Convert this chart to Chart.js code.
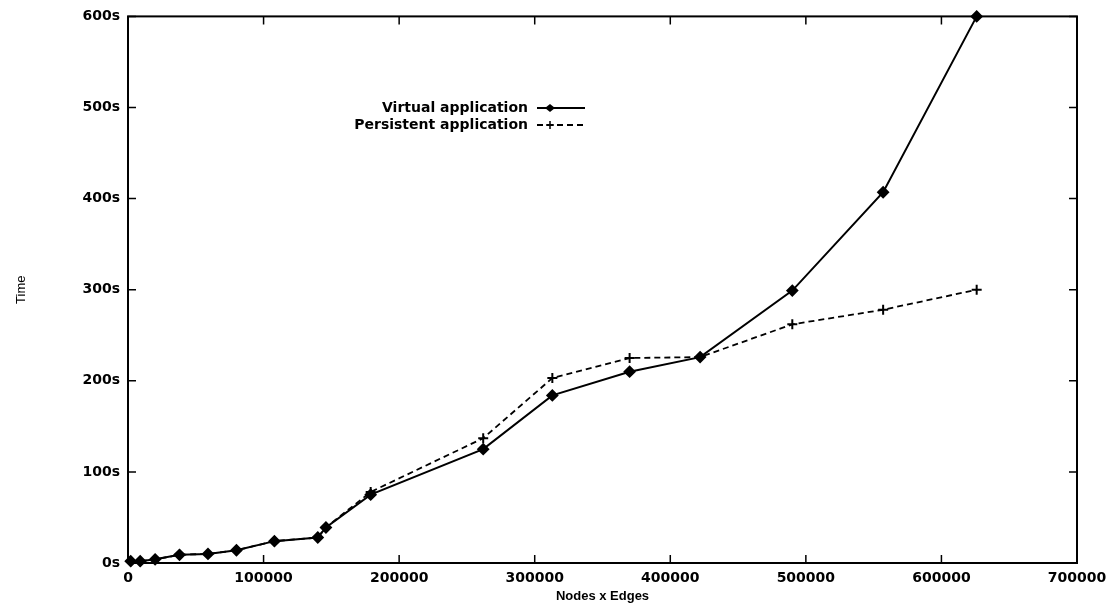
<!DOCTYPE html>
<html>
<head>
<meta charset="utf-8">
<script src="https://cdn.jsdelivr.net/npm/chart.js@4.4.1/dist/chart.umd.min.js"></script>
<style>
html,body{margin:0;padding:0;background:#fff;}
canvas{display:block;}
</style>
</head>
<body>
<canvas id="c" width="1117" height="604"></canvas>
<script>
const nodesXEdges = [2000, 9000, 20000, 38000, 59000, 80000, 108000, 140000, 146000, 179000, 262000, 313000, 370000, 422000, 490000, 557000, 626000];
const virtualTime = [2, 2, 4, 9, 10, 14, 24, 28, 39, 75, 125, 184, 210, 226, 299, 407, 600];
const persistentTime = [2, 2, 4, 9, 10, 14, 24, 28, 39, 78, 137, 203, 225, 226, 262, 278, 300];
const seriesNames = ["Virtual application", "Persistent application"];
const xTicks = [0, 100000, 200000, 300000, 400000, 500000, 600000, 700000];
const yTicks = [0, 100, 200, 300, 400, 500, 600];
const xTitle = "Nodes x Edges";
const yTitle = "Time";

const FONT = "'Liberation Sans', Arial, sans-serif";
const WIDE = "'DejaVu Sans', sans-serif";

const frame = {
  id: 'frame',
  afterDraw(chart) {
    const {ctx, chartArea: a, scales} = chart;
    ctx.save();
    ctx.strokeStyle = '#000';
    ctx.lineWidth = 2;
    ctx.strokeRect(a.left, a.top, a.right - a.left, a.bottom - a.top);
    ctx.lineWidth = 1.5;
    const L = 8;
    xTicks.forEach(v => {
      const x = scales.x.getPixelForValue(v);
      ctx.beginPath();
      ctx.moveTo(x, a.bottom); ctx.lineTo(x, a.bottom - L);
      ctx.moveTo(x, a.top); ctx.lineTo(x, a.top + L);
      ctx.stroke();
    });
    yTicks.forEach(v => {
      const y = scales.y.getPixelForValue(v);
      ctx.beginPath();
      ctx.moveTo(a.left, y); ctx.lineTo(a.left + L, y);
      ctx.moveTo(a.right, y); ctx.lineTo(a.right - L, y);
      ctx.stroke();
    });
    // legend, gnuplot style: text right-aligned, sample to the right
    ctx.font = "bold 14px " + WIDE;
    ctx.fillStyle = '#000';
    ctx.textAlign = 'right';
    ctx.textBaseline = 'middle';
    const tx = 528, sx0 = 537, sx1 = 585;
    const rows = [108, 125];
    chart.data.datasets.forEach((ds, i) => {
      const y = rows[i];
      ctx.fillText(ds.label, tx, y);
      ctx.save();
      ctx.lineWidth = ds.borderWidth;
      ctx.setLineDash(ds.borderDash || []);
      ctx.beginPath(); ctx.moveTo(sx0, y); ctx.lineTo(sx1, y); ctx.stroke();
      ctx.restore();
      const cx = (sx0 + 13);
      ctx.beginPath();
      if (i === 0) {
        ctx.moveTo(cx, y - 4); ctx.lineTo(cx + 5, y); ctx.lineTo(cx, y + 4); ctx.lineTo(cx - 5, y); ctx.closePath();
        ctx.fill();
      } else {
        ctx.lineWidth = 1.5;
        ctx.moveTo(cx - 4, y); ctx.lineTo(cx + 4, y);
        ctx.moveTo(cx, y - 4); ctx.lineTo(cx, y + 4);
        ctx.stroke();
      }
    });
    ctx.restore();
  }
};

new Chart(document.getElementById('c'), {
  type: 'line',
  data: {
    datasets: [
      {
        label: seriesNames[0],
        data: nodesXEdges.map((x, i) => ({x, y: virtualTime[i]})),
        borderColor: '#000', backgroundColor: '#000',
        borderWidth: 2, pointStyle: 'rectRot', pointRadius: 5,
        pointBackgroundColor: '#000', pointBorderColor: '#000',
        tension: 0, clip: false
      },
      {
        label: seriesNames[1],
        data: nodesXEdges.map((x, i) => ({x, y: persistentTime[i]})),
        borderColor: '#000', backgroundColor: '#000',
        borderWidth: 1.8, borderDash: [6, 4], pointStyle: 'cross', pointRadius: 5,
        pointBorderWidth: 2, pointBorderColor: '#000',
        tension: 0, clip: false
      }
    ]
  },
  options: {
    responsive: false,
    animation: false,
    layout: {padding: {top: 16, right: 40, left: 0, bottom: 0}},
    plugins: {legend: {display: false}, tooltip: {enabled: false}},
    scales: {
      x: {
        type: 'linear', min: 0, max: 700000,
        afterBuildTicks: s => { s.ticks = xTicks.map(v => ({value: v})); },
        afterFit: s => { s.height = 41; },
        grid: {display: false, drawTicks: false},
        border: {display: false},
        ticks: {padding: 7, color: '#000', font: {family: WIDE, size: 14, weight: 'bold'}, maxRotation: 0, callback: v => String(v)},
        title: {display: true, text: xTitle, color: '#000', font: {family: FONT, size: 13, weight: 'bold'}, padding: {top: 0, bottom: 0}}
      },
      y: {
        type: 'linear', min: 0, max: 600,
        afterBuildTicks: s => { s.ticks = yTicks.map(v => ({value: v})); },
        afterFit: s => { s.width = 128; },
        grid: {display: false, drawTicks: false},
        border: {display: false},
        ticks: {padding: 8, color: '#000', font: {family: WIDE, size: 14, weight: 'bold'}, callback: v => v + 's'},
        title: {display: true, text: yTitle, color: '#000', font: {family: FONT, size: 13}, padding: {top: 14, bottom: 0}}
      }
    }
  },
  plugins: [frame]
});
</script>
</body>
</html>
